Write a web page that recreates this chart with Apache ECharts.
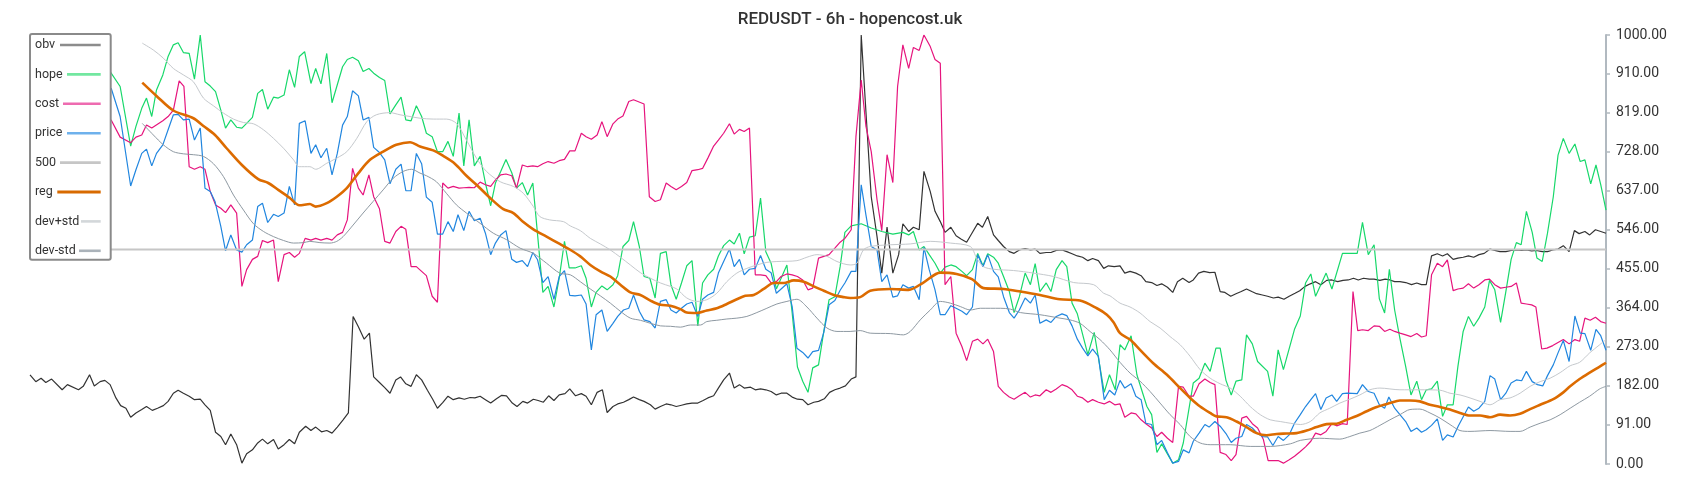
<!DOCTYPE html>
<html><head><meta charset="utf-8">
<script src="https://cdn.jsdelivr.net/npm/echarts@6/dist/echarts.min.js"></script>
<style>html,body{margin:0;padding:0;background:#fff}#c{width:1700px;height:500px}</style>
</head><body><div id="c"></div>
<script>
// x = candle index (0..299), y = normalised value (0..1000)
const obvData = [[0,208],[1.1,192],[2.1,200],[3,190],[4.1,198],[6.1,173],[7.1,185],[9.2,173],[10.1,181],[11.3,208],[12.2,182],[13.3,192],[14.2,195],[15.2,185],[16.3,154],[17.2,136],[18.2,130],[19.1,109],[20.1,119],[21.2,127],[22.1,134],[23.2,125],[24.2,130],[25.3,136],[26.2,146],[27.2,165],[28.1,172],[29.1,165],[30.2,158],[31.2,150],[32.3,151],[33.2,138],[34.2,125],[35.2,74],[36.2,64],[37.1,45],[38.1,70],[39.2,45],[40.2,2],[41.1,24],[42.2,33],[43.2,49],[44.1,58],[45.1,47],[46.2,57],[47.1,35],[48.2,45],[49.2,57],[50.2,47],[51.1,74],[52.3,88],[53.3,78],[54.2,86],[55.3,75],[56.3,78],[57.3,72],[58.3,86],[59.4,103],[60.4,119],[61.3,344],[62.3,320],[63.4,291],[64.4,305],[65.2,203],[66.3,190],[67.3,178],[68.3,165],[69.4,196],[70.3,203],[71.3,187],[72.3,181],[73.3,208],[74.3,196],[75.4,172],[76.4,151],[77.3,130],[78.3,143],[79.3,158],[80.3,150],[81.4,154],[82.4,151],[83.5,155],[84.4,154],[85.4,158],[86.4,150],[87.4,142],[88.5,152],[89.5,160],[90.4,159],[91.5,142],[92.4,134],[93.5,146],[94.4,142],[95.5,151],[96.4,148],[97.4,144],[98.4,159],[99.4,148],[100.4,161],[101.5,164],[102.4,175],[103.5,159],[104.6,164],[105.5,158],[106.5,138],[107.6,167],[108.6,173],[109.5,120],[110.6,134],[111.5,140],[112.6,144],[113.6,150],[114.5,156],[115.6,150],[116.5,146],[117.7,138],[118.6,128],[119.6,134],[120.7,140],[121.6,138],[122.6,134],[123.6,137],[124.6,140],[125.6,142],[126.7,142],[127.7,148],[128.6,154],[129.7,159],[130.6,177],[131.6,196],[132.7,212],[133.6,177],[134.6,185],[135.5,177],[136.7,179],[137.6,173],[138.6,175],[139.6,173],[140.6,169],[141.6,161],[142.5,165],[143.6,165],[144.6,156],[145.6,151],[146.6,150],[147.6,138],[148.7,144],[149.6,146],[150.7,152],[151.7,167],[152.7,173],[153.7,177],[154.7,182],[155.8,198],[156.7,203],[157.7,1000],[158.7,800],[159.6,623],[160.7,530],[161.6,445],[162.6,552],[163.7,445],[164.8,488],[165.6,560],[166.7,542],[167.6,552],[168.7,546],[169.6,682],[170.8,635],[171.7,589],[172.7,565],[173.6,540],[174.7,552],[175.7,532],[176.7,524],[177.7,517],[178.7,538],[179.8,561],[180.7,552],[181.7,577],[182.8,534],[183.7,521],[184.7,507],[185.8,495],[186.7,491],[187.7,499],[188.8,502],[189.8,499],[190.7,501],[191.6,491],[192.8,493],[193.7,493],[194.7,498],[195.8,499],[196.7,495],[197.7,490],[198.7,485],[199.7,482],[200.7,474],[201.6,479],[202.7,474],[203.7,456],[204.6,462],[205.7,460],[206.8,462],[207.7,445],[208.7,449],[209.8,445],[210.8,439],[211.7,425],[212.8,423],[213.8,416],[214.7,420],[215.8,412],[216.8,400],[217.7,425],[218.7,433],[219.9,423],[220.7,429],[221.7,445],[222.7,449],[223.8,446],[224.8,447],[225.8,402],[226.7,400],[227.8,391],[228.8,397],[229.8,402],[230.8,408],[231.8,402],[232.7,397],[233.8,394],[234.8,391],[235.9,387],[236.8,389],[237.9,384],[238.9,391],[240,398],[240.9,404],[241.9,414],[242.9,420],[243.9,425],[244.9,418],[246,428],[247,429],[248.1,425],[249.1,428],[250.1,429],[251.1,433],[252,429],[253,433],[254.1,431],[255,431],[256.1,428],[257.1,431],[258,429],[258.9,425],[259.9,425],[261,423],[262.1,418],[263.1,422],[264,418],[264.9,418],[265.9,485],[267,490],[268,485],[268.9,490],[270,477],[270.9,480],[271.9,482],[272.9,485],[273.9,482],[274.9,488],[275.9,491],[277,501],[277.9,498],[278.9,495],[280,495],[281,498],[282,499],[283,498],[283.9,499],[284.9,497],[285.8,498],[286.9,495],[287.9,495],[288.9,499],[289.9,501],[290.9,509],[292,495],[293,544],[293.9,537],[295,542],[295.9,534],[297,546],[298,542],[299,538]];

const hopeData = [[0,890],[2,935],[4,900],[6,950],[8,915],[10,960],[12,930],[14,945],[15.4,911],[17.1,880],[19.1,741],[20.1,787],[21.2,829],[22.1,853],[23.1,810],[24,872],[25.2,907],[26.2,950],[27.2,977],[28.1,982],[29.1,959],[30.2,957],[31.2,897],[32.3,1000],[33.2,891],[34.2,881],[35.2,868],[36.2,825],[37.1,783],[38.1,802],[39.2,785],[40.2,783],[41.1,794],[42.2,808],[43.2,864],[44.1,873],[45.1,827],[46.2,855],[47.1,853],[48.2,860],[49.2,919],[50.2,878],[51.1,950],[52.1,961],[53.3,887],[54.2,922],[55.2,886],[56.3,957],[57.3,842],[58.3,884],[59.3,926],[60.2,943],[61.2,948],[62.3,940],[63.2,915],[64.3,922],[65.2,911],[66.3,901],[67.3,894],[68.3,816],[69.4,837],[70.4,855],[71.3,802],[72.3,800],[73.3,835],[74.3,810],[75.2,771],[76.3,763],[77.3,728],[78.3,728],[79.3,752],[80.3,717],[81.4,818],[82.3,695],[83.3,802],[84.3,695],[85.4,717],[86.4,655],[87.4,602],[88.3,655],[89.3,682],[90.3,710],[91.4,679],[92.3,643],[93.4,656],[94.4,627],[95.4,655],[96.3,534],[97.3,400],[98.3,414],[99.4,366],[100.4,433],[101.4,519],[102.3,457],[103.4,457],[104.6,462],[105.5,433],[106.5,366],[107.4,400],[108.5,415],[109.5,406],[110.6,418],[111.5,439],[112.5,507],[113.6,521],[114.5,565],[115.6,507],[116.5,437],[117.6,433],[118.6,387],[119.6,491],[120.7,495],[121.6,418],[122.6,384],[123.6,422],[124.6,462],[125.6,474],[126.7,322],[127.6,422],[128.6,441],[129.7,454],[130.6,485],[131.6,509],[132.7,522],[133.6,513],[134.6,538],[135.5,490],[136.5,529],[137.6,532],[138.6,620],[139.6,495],[140.6,468],[141.6,408],[142.5,433],[143.6,464],[144.6,352],[145.6,226],[146.6,193],[147.6,167],[148.5,224],[149.6,231],[150.6,309],[151.6,383],[152.7,390],[153.7,460],[154.6,540],[155.8,555],[157.7,560],[159.6,550],[161.6,542],[163.7,536],[165.6,540],[166.7,534],[167.6,542],[168.7,499],[169.6,507],[170.6,488],[171.7,468],[172.7,445],[173.6,459],[174.7,464],[175.7,460],[176.8,449],[177.7,439],[178.8,453],[179.8,491],[180.8,462],[181.7,490],[182.8,482],[183.7,468],[184.7,437],[185.8,402],[186.7,353],[187.7,390],[188.8,445],[189.8,418],[190.7,467],[191.6,402],[192.8,422],[193.7,402],[194.7,453],[195.8,474],[196.7,460],[197.7,375],[198.7,350],[200.7,255],[201.9,307],[203.8,167],[204.8,208],[205.9,173],[206.8,278],[207.7,266],[208.9,299],[210,208],[211.9,134],[212.8,115],[213.8,27],[214.7,47],[216.8,2],[217.9,10],[218.8,49],[220.7,189],[221.8,200],[222.9,235],[223.9,216],[225,270],[225.8,270],[226.9,195],[227.9,161],[228.8,193],[229.9,196],[230.8,301],[231.9,280],[232.9,239],[234.8,216],[235.8,158],[236.8,266],[237.8,220],[239.9,314],[241,345],[242,422],[243,443],[243.9,391],[245.9,445],[247,408],[249,491],[251.8,491],[252.8,563],[253.9,488],[255,511],[256,385],[257,352],[257.9,454],[258.9,359],[259.9,293],[261,227],[262,161],[263.1,193],[264,150],[264.9,173],[265.9,175],[267,193],[268,111],[268.9,138],[270,138],[270.9,227],[271.9,309],[272.9,344],[273.9,321],[274.9,340],[276,366],[276.9,428],[277.9,406],[279,330],[280,402],[281,477],[282,516],[282.9,511],[283.9,589],[285,540],[285.9,480],[286.9,472],[287.9,538],[289,623],[289.9,720],[290.9,759],[292,724],[293.1,746],[294.1,705],[295,709],[296.1,653],[297.1,697],[298,651],[299,592]];

const costData = [[0,770],[3,795],[6,760],[9,790],[12,775],[15.4,802],[17.1,762],[19.1,749],[20.1,762],[21.2,767],[22.1,790],[23.1,783],[25.2,800],[26.2,810],[27.2,825],[28.3,893],[29.2,880],[30.2,693],[31.2,687],[32.3,693],[33.2,687],[34.2,635],[35.2,604],[36.2,596],[37.1,586],[38.1,604],[39.2,585],[40.2,414],[41.1,453],[42.2,477],[43.2,484],[44.1,521],[45.1,516],[46.2,522],[47.1,425],[48.2,488],[49.2,493],[50.2,482],[51.1,491],[52.2,526],[53.3,522],[54.2,526],[55.2,522],[56.3,526],[57.3,522],[58.3,534],[59.3,540],[60.2,569],[61.2,689],[62.3,643],[63.2,627],[64.3,674],[65.2,623],[66.3,595],[67.3,519],[68.3,515],[69.4,542],[70.4,554],[71.3,547],[72.3,460],[73.3,460],[74.3,449],[75.2,439],[76.3,391],[77.3,377],[78.3,655],[79.3,643],[80.3,647],[81.4,643],[82.3,644],[83.3,645],[84.3,644],[85.4,657],[86.4,651],[87.4,647],[88.3,662],[89.3,674],[90.3,676],[91.4,672],[92.3,643],[93.4,697],[94.4,693],[95.4,695],[96.3,693],[97.3,700],[98.3,705],[99.4,701],[100.4,707],[101.4,710],[102.4,730],[103.4,730],[104.6,771],[105.5,763],[106.5,757],[107.6,767],[108.5,798],[109.5,763],[110.6,793],[111.5,804],[112.5,811],[113.6,845],[114.5,849],[116.5,839],[117.5,623],[118.6,612],[119.6,616],[120.7,655],[121.6,647],[122.6,639],[123.6,647],[124.6,656],[125.6,684],[126.7,686],[127.6,689],[128.6,713],[129.7,741],[130.6,755],[131.6,771],[132.7,793],[133.6,769],[134.6,780],[135.5,775],[136.5,783],[137.6,441],[138.6,441],[139.6,439],[140.6,422],[141.6,425],[142.5,437],[143.6,443],[144.6,441],[145.6,437],[146.6,429],[147.6,406],[148.5,410],[149.6,480],[150.6,484],[151.6,488],[152.7,503],[153.7,517],[154.6,526],[155.8,546],[156.7,763],[157.7,895],[158.6,787],[159.6,728],[160.7,616],[161.6,544],[162.6,721],[163.7,656],[164.6,880],[165.6,977],[166.7,922],[167.6,971],[168.7,964],[169.6,1000],[170.8,973],[171.7,943],[172.7,934],[173.6,418],[174.7,437],[175.7,305],[176.8,274],[177.7,241],[178.8,286],[179.8,291],[180.8,280],[181.7,291],[182.8,262],[183.7,181],[184.7,167],[185.8,156],[186.7,151],[187.7,159],[188.8,167],[189.8,156],[190.7,161],[191.6,159],[192.8,173],[193.7,167],[194.7,175],[195.8,185],[196.7,181],[197.7,173],[198.7,158],[199.7,154],[200.7,144],[201.6,150],[202.7,144],[203.8,140],[204.8,146],[205.8,138],[206.8,140],[207.7,109],[208.9,119],[209.8,117],[210.8,103],[211.7,94],[212.8,84],[213.8,64],[214.7,74],[215.8,60],[216.8,50],[217.9,181],[218.8,179],[219.9,158],[220.7,158],[221.8,187],[222.9,198],[223.9,190],[224.8,185],[225.8,27],[226.9,22],[227.9,8],[228.8,22],[229.9,107],[230.8,111],[231.9,94],[232.9,84],[234,57],[234.9,8],[235.9,8],[236.8,8],[237.8,2],[238.9,10],[239.9,18],[241,29],[242,40],[243,53],[243.9,72],[244.9,68],[245.9,76],[247,94],[247.9,89],[249,94],[249.9,92],[251,402],[251.9,311],[252.8,313],[253.9,311],[255,322],[256,321],[257,309],[258,314],[258.9,309],[259.9,305],[261,301],[262,297],[263.1,304],[264,296],[264.9,299],[265.9,441],[267,468],[268,460],[268.9,476],[270,404],[270.9,408],[271.9,410],[272.9,420],[273.9,410],[274.9,418],[276,429],[276.9,431],[277.9,418],[279,410],[280,412],[281,414],[282,422],[282.9,375],[283.9,373],[284.9,371],[285.7,366],[286.8,268],[287.8,270],[288.9,276],[289.9,283],[290.9,290],[292,280],[293.1,290],[294,286],[295,340],[296,335],[297,342],[298,332],[299,328]];

const priceData = [[0,820],[3,850],[6,815],[9,865],[12,840],[15.4,876],[17.1,810],[19.1,648],[20.1,686],[21.2,724],[22.1,734],[23.1,695],[24,724],[25.2,744],[26.2,779],[27.2,814],[28.1,815],[29.1,802],[30.2,804],[31.2,755],[32.3,783],[33.2,643],[34.2,635],[35.1,612],[36.2,554],[37.1,497],[38.1,534],[39.2,499],[40.2,494],[41.1,511],[42.2,522],[43.2,600],[44.1,608],[45.1,563],[46.2,582],[47.1,577],[48.2,585],[49.2,647],[50.2,604],[51.1,794],[52.2,800],[53.3,724],[54.2,744],[55.2,714],[56.3,736],[57.3,674],[58.3,724],[59.3,790],[60.2,810],[61.2,870],[62.3,858],[63.2,802],[64.3,808],[65.2,738],[66.3,726],[67.3,709],[68.3,653],[69.4,687],[70.4,699],[71.3,637],[72.3,637],[73.3,724],[74.3,700],[75.2,622],[76.3,610],[77.3,536],[78.3,536],[79.3,565],[80.3,542],[81.2,581],[82.3,544],[83.3,589],[84.3,567],[85.4,573],[86.4,538],[87.4,488],[88.3,515],[89.3,534],[90.3,544],[91.4,477],[92.3,470],[93.4,474],[94.4,460],[95.4,493],[96.3,476],[97.3,423],[98.3,437],[99.4,384],[100.4,437],[101.4,451],[102.4,393],[103.4,392],[104.6,394],[105.5,373],[106.5,266],[107.4,348],[108.5,359],[109.5,309],[110.6,328],[111.5,344],[112.6,359],[113.6,363],[114.5,394],[115.6,356],[116.5,336],[117.6,332],[118.6,317],[119.6,379],[120.7,383],[121.6,359],[122.6,352],[123.6,363],[124.6,373],[125.6,377],[126.7,344],[127.6,384],[128.6,394],[129.7,400],[130.6,445],[131.6,472],[132.7,501],[133.6,460],[134.6,477],[135.5,441],[136.5,454],[137.6,456],[138.6,486],[139.6,454],[140.6,446],[141.6,398],[142.5,408],[143.6,420],[144.6,367],[145.5,270],[146.6,260],[147.6,247],[148.5,262],[149.6,265],[150.6,307],[151.6,371],[152.7,381],[153.7,405],[154.6,422],[155.8,449],[156.7,449],[157.7,651],[158.6,580],[159.6,507],[160.7,499],[161.6,425],[162.6,441],[163.7,389],[164.6,392],[165.6,418],[166.7,410],[167.6,414],[168.7,383],[169.6,505],[170.6,453],[171.7,406],[172.7,348],[173.6,348],[174.7,369],[175.7,363],[176.8,356],[177.7,348],[178.8,366],[179.8,488],[180.8,460],[181.7,488],[182.8,449],[183.7,436],[184.7,390],[185.8,353],[186.7,340],[187.7,359],[188.8,387],[189.8,375],[190.7,394],[191.6,328],[192.8,336],[193.7,330],[194.7,344],[195.8,350],[196.7,346],[197.7,322],[198.7,291],[199.7,270],[200.7,252],[201.6,268],[202.7,251],[203.8,150],[204.8,172],[205.8,161],[206.8,195],[207.7,177],[208.9,187],[209.8,158],[210.8,150],[211.7,95],[212.8,92],[213.8,45],[214.7,55],[215.8,26],[216.8,2],[217.9,6],[218.8,33],[219.9,26],[220.7,53],[221.8,72],[222.9,92],[223.7,86],[224.8,99],[225.8,88],[226.9,71],[227.9,50],[228.8,60],[229.9,64],[230.8,92],[231.9,84],[232.9,71],[233.8,64],[234.8,63],[235.8,43],[236.8,64],[237.8,55],[238.9,68],[239.9,95],[241,115],[242,134],[243,150],[243.9,164],[244.9,127],[245.9,154],[247,161],[247.9,146],[249,164],[249.9,165],[251.8,164],[252.8,185],[253.9,169],[255,165],[256,138],[257,130],[257.8,156],[258.9,130],[259.9,115],[261,99],[262,76],[263.1,84],[264,74],[264.9,80],[265.9,90],[267,105],[268,55],[268.9,68],[270,63],[271,89],[272.9,133],[273.9,123],[274.9,130],[276,146],[277,206],[277.9,198],[279,150],[280,165],[281,189],[282,196],[283,194],[283.9,216],[285,192],[286,185],[287,182],[287.9,206],[289,231],[289.9,259],[290.9,288],[292,239],[293.1,345],[294.1,305],[295,304],[296.1,265],[297.1,314],[298,299],[299,265]];

const level500 = [[0,500],[299,500]];

const regData = [[21.3,889],[24,858],[27.2,824],[31,806],[32.9,788],[35.1,767],[37.3,736],[40.2,697],[43.3,664],[45.2,655],[47.1,639],[49.3,620],[51.1,603],[53.1,606],[54.2,600],[56.3,608],[58.2,623],[60.1,643],[62.3,678],[64.5,709],[67,728],[69.5,744],[72.1,750],[74,740],[76.5,731],[78.4,718],[80.6,700],[82.8,672],[84.7,651],[87.3,620],[89.8,594],[91.7,585],[93.6,564],[95.5,547],[98,530],[100.5,513],[102.4,500],[104.4,484],[106.3,464],[108.2,449],[110.1,437],[112,418],[113.9,400],[115.8,394],[117.7,381],[119.6,371],[121.5,369],[123.4,361],[124.6,353],[126.5,352],[128.4,358],[130.3,363],[132.2,373],[134.1,384],[135.7,392],[137.3,394],[139.2,408],[141.1,422],[143,422],[144.9,428],[146.8,425],[148.7,414],[150.6,404],[152.5,394],[154.4,389],[155.6,387],[157.5,389],[159.4,404],[163.2,408],[166.7,406],[169.5,423],[172.7,446],[175.8,443],[178.7,431],[180.9,410],[184.7,408],[187.9,402],[191.6,394],[195.4,384],[199.2,381],[202.4,363],[204.3,348],[205.6,330],[206.8,305],[208.7,290],[210.6,266],[213.1,235],[215.7,208],[218.2,177],[220.1,154],[222,134],[223.9,119],[225.1,111],[227,109],[228.9,99],[230.8,86],[232.7,72],[234.6,67],[236.5,70],[238.4,71],[240.3,72],[242.2,78],[244.1,86],[246,93],[247.9,94],[249.8,103],[251.7,112],[253.6,123],[255.5,133],[258,142],[259.9,148],[261.8,148],[263.7,146],[265.6,138],[267.5,133],[269.4,127],[271.3,119],[273.2,113],[275.1,113],[277,109],[278.9,115],[280.8,113],[282.7,117],[284.6,128],[286.5,138],[289,151],[290.9,167],[292.2,181],[294,198],[295.9,213],[297.8,227],[299,236]];

const devPlusData = [[21.3,981],[23.4,965],[25.3,946],[27.2,922],[29.1,907],[31,891],[32.9,853],[34.8,835],[36.7,818],[38.6,804],[40.5,796],[42.4,793],[44.3,779],[46.2,759],[48.1,736],[50,709],[51.1,693],[53.1,693],[54.2,687],[56.3,701],[58.2,713],[60.1,728],[62,759],[63.9,798],[65.7,814],[68.3,819],[70.2,814],[72.1,810],[74,806],[76.5,804],[79,804],[80.9,794],[82.8,755],[84.7,713],[86.6,682],[89.2,658],[91.7,647],[93.6,631],[95.5,600],[96.7,577],[98.6,569],[101.2,565],[102.5,555],[104.4,544],[106.3,526],[108.2,513],[110.1,499],[112,482],[113.9,464],[115.8,446],[117.7,433],[119.6,422],[121.5,414],[122.7,408],[124.6,387],[126.5,379],[128.4,383],[130.3,398],[132.2,425],[134.1,445],[136,456],[137.9,464],[139.8,470],[141.7,472],[145.5,474],[147.4,482],[149.3,488],[151.2,484],[153.1,472],[155.6,464],[156.9,468],[158.1,499],[159.4,507],[163.2,511],[167,513],[170.8,519],[174.6,515],[178.4,507],[179.6,480],[180.9,460],[182.8,454],[186.6,451],[190.4,445],[194.2,437],[198,423],[201.8,418],[203.7,398],[204.9,392],[206.8,375],[208.7,366],[210.6,352],[212.5,332],[214.4,317],[216.3,297],[218.2,278],[220.1,251],[222,220],[223.9,200],[225.8,187],[227.7,177],[229.6,158],[231.5,134],[233.4,115],[235.3,103],[237.2,99],[239.1,95],[241,92],[242.9,99],[244.7,119],[246.6,130],[248.5,142],[250.4,151],[252.3,161],[254.2,173],[256.1,177],[259.9,173],[263.7,173],[267.5,172],[269.4,165],[271.3,161],[273.2,154],[275.1,146],[277,138],[278.9,150],[280.8,154],[282.7,165],[284.6,181],[286.5,192],[288.4,200],[290.3,213],[292.2,229],[294,237],[295.9,259],[297.8,278],[299,290]];

const devMinusData = [[21.3,794],[23.4,767],[25.3,744],[27.2,728],[29.1,723],[31,721],[32.9,717],[34.8,700],[36.7,670],[38.6,627],[40.5,592],[42.4,560],[44.3,542],[46.2,530],[48.1,521],[50,515],[51.9,516],[53.1,519],[55,516],[56.9,515],[58.2,519],[59.4,530],[61.3,557],[63.2,585],[65.1,612],[67,639],[68.9,666],[70.8,682],[72.4,687],[74,678],[75.2,672],[77.1,658],[79,631],[80.9,604],[82.8,585],[85.4,561],[87.9,538],[90.4,523],[93,503],[95.5,491],[98,468],[100.5,445],[102.5,441],[104.4,425],[106.3,408],[108.2,392],[110.1,375],[112,356],[113.9,340],[115.8,335],[117.7,328],[119.6,322],[121.5,321],[123.4,319],[125.3,324],[127.2,324],[128.4,332],[130.3,335],[132.2,338],[134.1,340],[136,344],[137.9,353],[139.8,363],[141.7,373],[143.6,379],[145.5,384],[147.4,366],[149.3,340],[151.2,317],[153.1,309],[155.6,309],[157.5,311],[159.4,305],[163.2,304],[165.7,301],[167,309],[168.9,336],[170.8,359],[172.7,379],[174.6,375],[176.5,367],[178.4,359],[180.3,363],[184.1,363],[186,361],[187.9,353],[191.6,348],[195.4,340],[197.3,336],[199.2,328],[201.1,309],[203,290],[204.9,266],[206.8,237],[208.7,212],[210.6,193],[212.5,169],[214.4,142],[216.3,115],[218.2,92],[220.1,64],[222,49],[223.9,45],[227.7,45],[231.5,41],[235.3,41],[239.1,47],[241,55],[244.7,60],[248.5,58],[250.4,64],[252.3,72],[254.2,78],[256.1,90],[258,103],[259.9,115],[261.8,127],[263.7,128],[265.6,119],[267.5,107],[269.4,92],[271.3,78],[273.2,76],[277,78],[280.8,76],[282.7,76],[284.6,86],[286.5,95],[288.4,103],[290.3,115],[292.2,130],[294,144],[295.9,158],[297.8,175],[299,181]];

const seriesNames = ['obv','hope','cost','price','500','reg','dev+std','dev-std'];
const seriesData = [obvData, hopeData, costData, priceData, level500, regData, devPlusData, devMinusData];
const titleText = 'REDUSDT - 6h - hopencost.uk';

// styles
const lineColors = ['#333333','#17d86a','#e6147d','#2186df','#c6c6c6','#dc6b00','#c5c9cd','#8e99a2'];
const lineWidths = [1.2,1.2,1.2,1.2,2,2.6,1,1];
const legendColors = ['#8c8c8c','#72e7a0','#ee6bb0','#6eb1ec','#c6c6c6','#d86a00','#d3d7da','#aab2b9'];
const legendTextW = [25,32,28,32,25,22.3,46,44];
const legendLineW = [40.7,33.7,37.7,33.7,40.7,43.4,19.7,21.7];

const rich = {};
seriesNames.forEach((n, i) => {
  rich['t' + i] = {width: legendTextW[i], fontSize: 12.5, color: '#333', fontFamily: 'Roboto', lineHeight: 14, verticalAlign: 'middle'};
  rich['l' + i] = {width: legendLineW[i], height: i === 5 ? 3.2 : 2.6, backgroundColor: legendColors[i], verticalAlign: 'middle'};
});

const chart = echarts.init(document.getElementById('c'), null, {renderer: 'canvas'});
chart.setOption({
  animation: false,
  backgroundColor: '#fff',
  title: {text: titleText, left: 'center', top: 11, padding: 0,
    textStyle: {fontSize: 17, fontWeight: 500, color: '#333', fontFamily: 'Roboto'}},
  legend: {
    data: seriesNames, orient: 'vertical', left: 30, top: 34,
    backgroundColor: '#fff', borderColor: '#8a8a8a', borderWidth: 2, borderRadius: 2,
    padding: [4, 10, 2, 0], itemWidth: 0, itemHeight: 14, itemGap: 15.4,
    icon: 'rect', itemStyle: {opacity: 0}, lineStyle: {opacity: 0},
    selectedMode: false,
    formatter: name => { const i = seriesNames.indexOf(name); return `{t${i}|${name}}{l${i}|}`; },
    textStyle: {rich: rich}
  },
  grid: {left: 30, right: 94, top: 35, bottom: 36},
  xAxis: {type: 'value', min: 0, max: 299, show: false},
  yAxis: {
    type: 'value', position: 'right', min: 0, max: 1000, interval: 91,
    axisLine: {show: true, onZero: false, lineStyle: {color: '#b1b9c0', width: 2}},
    axisTick: {show: true, length: 4, lineStyle: {color: '#b1b9c0', width: 1.5}},
    axisLabel: {formatter: v => v.toFixed(2), color: '#333', fontSize: 14, fontFamily: 'Roboto', margin: 10},
    splitLine: {show: false}
  },
  series: seriesNames.map((n, i) => ({
    name: n, type: 'line', data: seriesData[i], symbol: 'none',
    smooth: (i >= 5) ? 0.3 : false,
    lineStyle: {color: lineColors[i], width: lineWidths[i]},
    itemStyle: {color: lineColors[i]},
    z: 2
  }))
});
</script>
</body></html>
